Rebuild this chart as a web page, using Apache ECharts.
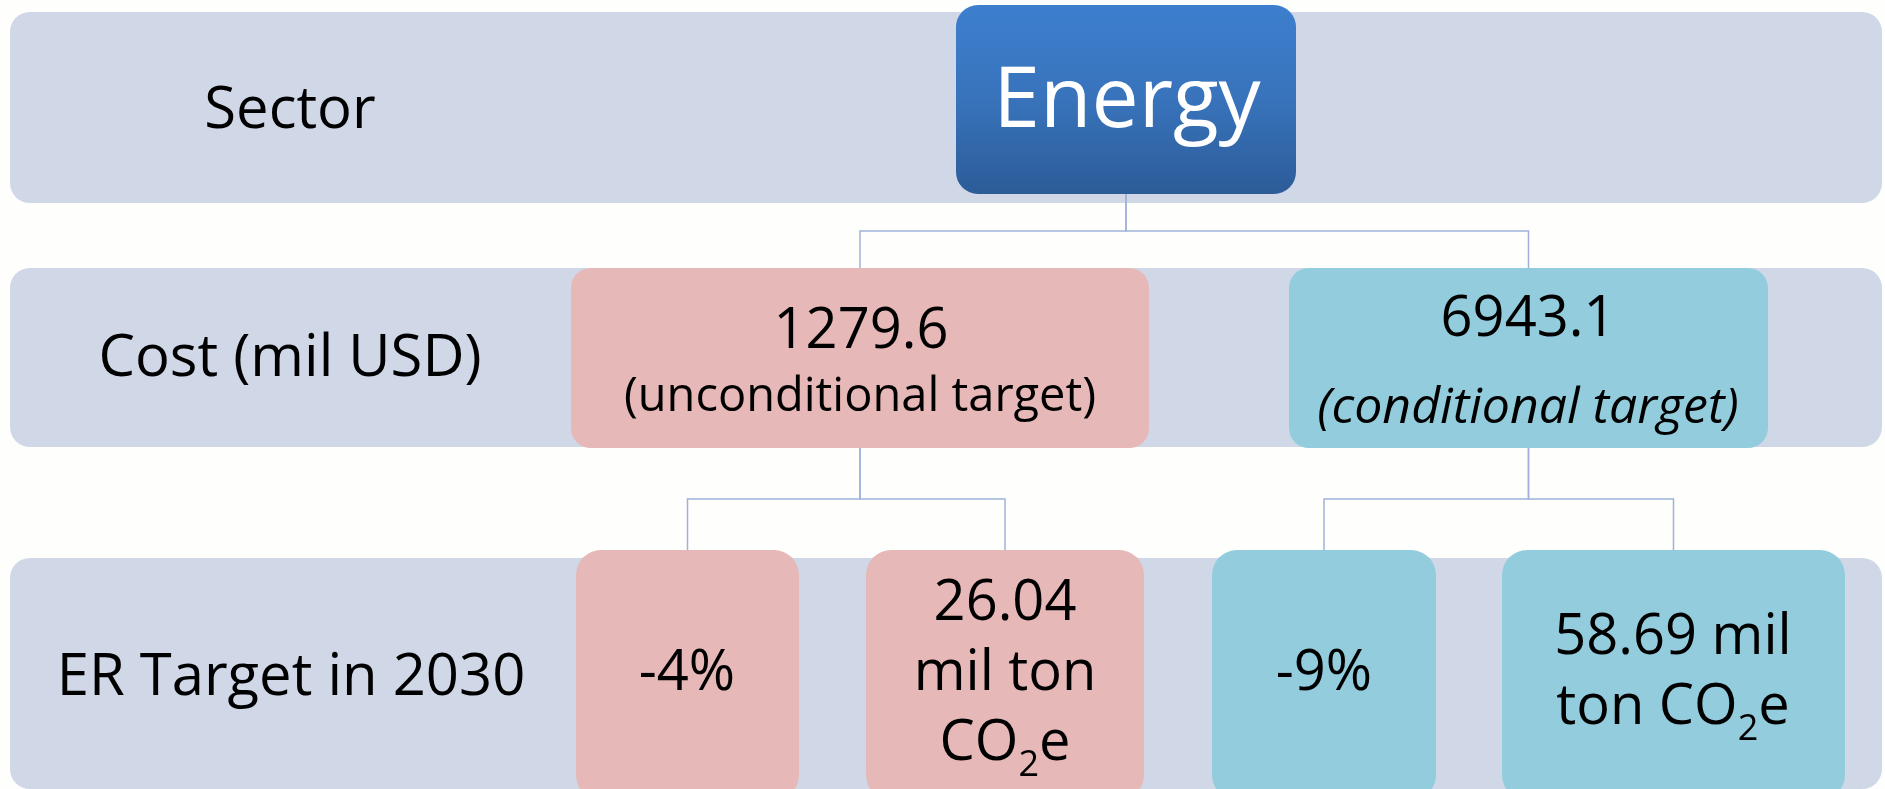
<!DOCTYPE html>
<html>
<head>
<meta charset="utf-8">
<title>Energy sector cost and ER targets</title>
<script src="https://cdn.jsdelivr.net/npm/echarts@6/dist/echarts.min.js"></script>
<style>
  html, body { margin: 0; padding: 0; background: #fefefd; }
  #chart { width: 1885px; height: 789px; }
</style>
</head>
<body>
<div id="chart"></div>
<script>
// data
const rowLabels = ['Sector', 'Cost (mil USD)', 'ER Target in 2030'];
const sectorName = 'Energy';
const targetTypes = ['unconditional target', 'conditional target'];
const costs = [1279.6, 6943.1];
const erPercent = [-4, -9];
const erAmount = [26.04, 58.69];

// layout
const font = '"Open Sans", sans-serif';
const bandX = [10, 1882];
const bandY = [[12, 203], [268, 447], [558, 789]];
const rootBox = [956, 5, 1296, 194];
const costBoxes = [[571, 268, 1149, 448], [1289, 268, 1768, 448]];
const leafBoxes = [[576, 550, 799, 800], [866, 550, 1144, 800], [1212, 550, 1436, 800], [1502, 550, 1845, 800]];
const fills = ['#e6b8b7', '#93cddd'];
const lineColor = '#9fb3d8';

var chartDom = document.getElementById('chart');
var myChart = echarts.init(chartDom);

function box(b, fill, r) {
    return {
        type: 'rect',
        shape: { x: b[0], y: b[1], width: b[2] - b[0], height: b[3] - b[1], r: r },
        style: { fill: fill },
        z: 10
    };
}

function label(text, x, y, size, extra) {
    return {
        type: 'text',
        x: x,
        y: y,
        z: 20,
        style: Object.assign({
            text: text,
            fontFamily: font,
            fontSize: size,
            fill: '#000',
            align: 'center',
            verticalAlign: 'middle'
        }, extra || {})
    };
}

// elbow connector from parent bottom centre to child top centre
function elbow(p, c) {
    const px = (p[0] + p[2]) / 2, cx = (c[0] + c[2]) / 2;
    const ym = (p[3] + c[1]) / 2;
    return {
        type: 'polyline',
        shape: { points: [[px, p[3]], [px, ym], [cx, ym], [cx, c[1]]] },
        style: { stroke: lineColor, lineWidth: 1.5, fill: null },
        z: 5
    };
}

const elements = [];

// row bands + row labels
bandY.forEach((y, i) => {
    elements.push({
        type: 'rect',
        shape: { x: bandX[0], y: y[0], width: bandX[1] - bandX[0], height: y[1] - y[0], r: 20 },
        style: { fill: '#d0d8e8' },
        z: 1
    });
});
elements.push(label(rowLabels[0], 290, 111, 58));
elements.push(label(rowLabels[1], 290, 359, 58));
elements.push(label(rowLabels[2], 291, 678, 58));

// connectors
costBoxes.forEach(c => elements.push(elbow(rootBox, c)));
leafBoxes.forEach((l, i) => elements.push(elbow(costBoxes[Math.floor(i / 2)], l)));

// root
elements.push({
    type: 'rect',
    shape: { x: rootBox[0], y: rootBox[1], width: rootBox[2] - rootBox[0], height: rootBox[3] - rootBox[1], r: 22 },
    style: {
        fill: new echarts.graphic.LinearGradient(0, 0, 0, 1, [
            { offset: 0, color: '#3d7fce' },
            { offset: 0.5, color: '#3873bb' },
            { offset: 1, color: '#2c5c98' }
        ])
    },
    z: 10
});
elements.push(label(sectorName, 1127, 103, 84, { fill: '#fff' }));

// cost level
costBoxes.forEach((b, i) => {
    elements.push(box(b, fills[i], 20));
});
elements.push(label(costs[0].toFixed(1), 861, 332, 56));
elements.push(label('(' + targetTypes[0] + ')', 860, 398, 47));
elements.push(label(costs[1].toFixed(1), 1528, 320, 56));
elements.push(label('(' + targetTypes[1] + ')', 1528, 409, 50, { fontStyle: 'italic' }));

// ER target level
leafBoxes.forEach((b, i) => {
    elements.push(box(b, fills[Math.floor(i / 2)], 25));
});
const rich = {
    t: { fontFamily: font, fontSize: 56, lineHeight: 70, fill: '#000' },
    s: { fontFamily: font, fontSize: 36, lineHeight: 20, padding: [44, 0, 0, 0], fill: '#000' }
};
elements.push(label(erPercent[0] + '%', 687, 674, 56));
elements.push(label('{t|' + erAmount[0] + '}\n{t|mil ton}\n{t|CO}{s|2}{t|e}', 1005, 674, 56, { rich: rich }));
elements.push(label(erPercent[1] + '%', 1324, 674, 56));
elements.push(label('{t|' + erAmount[1] + ' mil}\n{t|ton CO}{s|2}{t|e}', 1673, 673, 56, { rich: rich }));

var option = {
    backgroundColor: '#fefefd',
    animation: false,
    graphic: { elements: elements }
};

option && myChart.setOption(option);
</script>
</body>
</html>
